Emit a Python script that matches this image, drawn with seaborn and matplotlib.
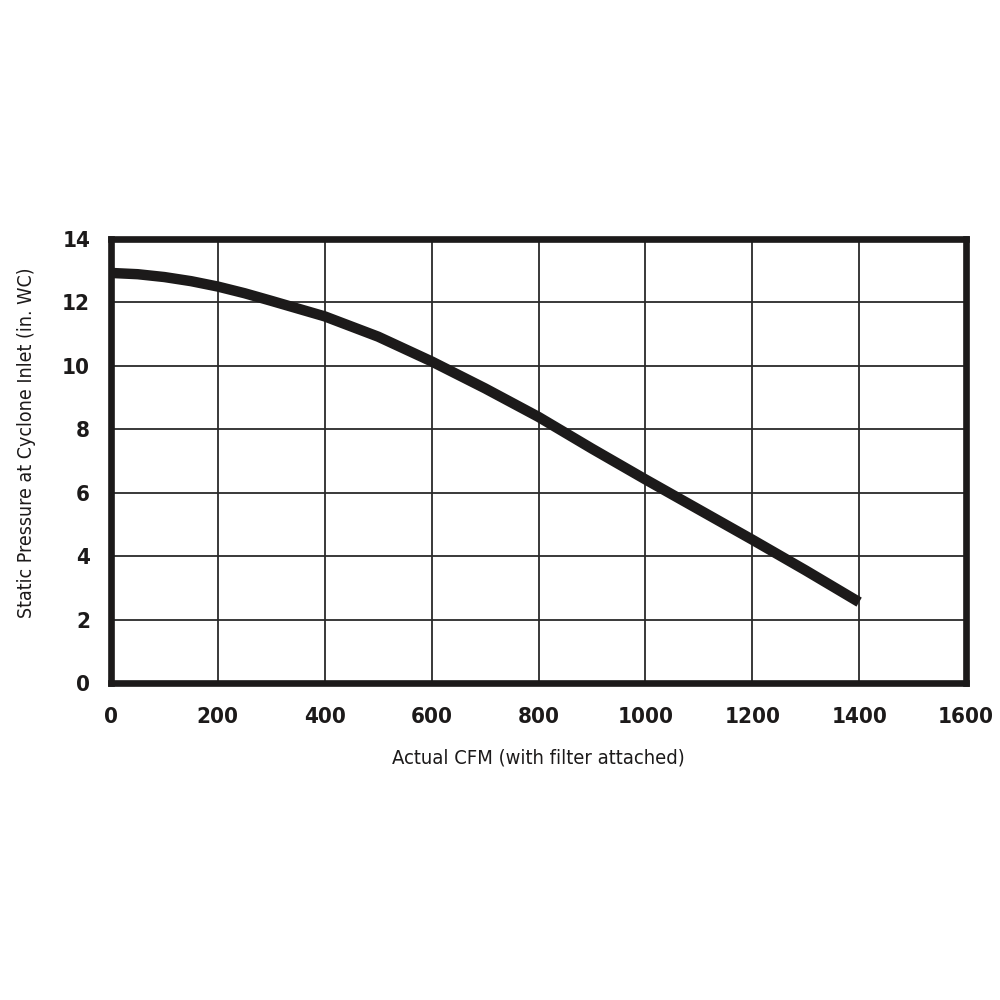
import matplotlib
matplotlib.use("Agg")
import matplotlib.pyplot as plt
import seaborn as sns
import pandas as pd

# fan curve
cfm = [0, 50, 100, 150, 200, 250, 300, 400, 500, 600, 700, 800, 900, 1000, 1100, 1200, 1300, 1400]
pressure = [12.93, 12.89, 12.8, 12.67, 12.5, 12.29, 12.05, 11.56, 10.92, 10.14, 9.29,
            8.39, 7.39, 6.42, 5.47, 4.52, 3.55, 2.55]

x_ticks = [0, 200, 400, 600, 800, 1000, 1200, 1400, 1600]
y_ticks = [0, 2, 4, 6, 8, 10, 12, 14]

df = pd.DataFrame({"cfm": cfm, "pressure": pressure})

sns.set_style("white")
plt.rcParams['font.family'] = ['DejaVu Sans']
plt.rcParams['font.stretch'] = 'condensed'

fig = plt.figure(figsize=(10, 10), dpi=100)
ax = fig.add_axes([0.111, 0.317, 0.855, 0.444])

sns.lineplot(data=df, x="cfm", y="pressure", ax=ax, color="#1c1a1a",
             linewidth=7.5, solid_capstyle="butt", solid_joinstyle="round", zorder=3)

ax.set_xlim(0, 1600)
ax.set_ylim(0, 14)
ax.set_xticks(x_ticks)
ax.set_yticks(y_ticks)
ax.set_xticklabels([str(t) for t in x_ticks], fontsize=16, fontweight="bold", stretch="condensed")
ax.set_yticklabels([str(t) for t in y_ticks], fontsize=16, fontweight="bold", stretch="condensed")
ax.tick_params(axis="both", length=0, colors="#1c1a1a")
ax.tick_params(axis="x", pad=17)
ax.tick_params(axis="y", pad=15)

ax.grid(True, color="#2a2a2a", linewidth=1.3)
for s in ax.spines.values():
    s.set_visible(True)
    s.set_linewidth(4.8)
    s.set_color("#1c1a1a")

ax.set_xlabel("Actual CFM (with filter attached)", fontsize=14.5, color="#1c1a1a",
              stretch="condensed")
ax.set_ylabel("Static Pressure at Cyclone Inlet (in. WC)", fontsize=14, color="#1c1a1a",
              stretch="condensed")
# label positions in axes fraction
ax.xaxis.set_label_coords(0.5, -0.147)
ax.yaxis.set_label_coords(-0.088, 0.54)

fig.savefig("out.png", dpi=100, facecolor="white")
